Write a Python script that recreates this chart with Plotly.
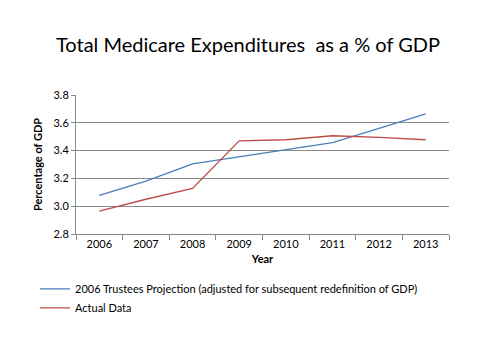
import plotly.graph_objects as go

years = ["2006", "2007", "2008", "2009", "2010", "2011", "2012", "2013"]
projection = [3.078, 3.18, 3.305, 3.357, 3.405, 3.458, 3.56, 3.665]
actual = [2.965, 3.05, 3.128, 3.47, 3.478, 3.507, 3.495, 3.478]

FONT = "Lato, 'Open Sans', sans-serif"

fig = go.Figure()
fig.add_trace(go.Scatter(x=years, y=projection, mode="lines",
                         name="2006 Trustees Projection (adjusted for subsequent redefinition of GDP)",
                         line=dict(color="#4A7EBB", width=1.3)))
fig.add_trace(go.Scatter(x=years, y=actual, mode="lines", name="Actual Data",
                         line=dict(color="#BE4B48", width=1.3)))

fig.update_layout(
    width=480, height=360,
    margin=dict(l=68, r=39, t=87, b=134, autoexpand=False),
    paper_bgcolor="white", plot_bgcolor="white",
    font=dict(family=FONT, size=11, color="black"),
    title=dict(text="Total Medicare Expenditures  as a % of GDP", x=240 / 480, xanchor="center",
               xref="container",
               y=1 - 37 / 360, yanchor="middle", font=dict(size=20, family=FONT)),
    showlegend=True,
    legend=dict(x=(27 - 68) / 373, y=-0.29, xref="paper", yref="paper",
                xanchor="left", yanchor="top", font=dict(size=11), tracegroupgap=0,
                bgcolor="rgba(0,0,0,0)"),
    xaxis=dict(type="category", range=[-0.5, 7.5], tickson="boundaries", ticks="outside", ticklen=5,
               tickcolor="#888888", showline=True, linecolor="#888888", showgrid=False,
               automargin=False,
               title=dict(text="<b>Year</b>", standoff=6, font=dict(size=11)),
               tickfont=dict(size=11)),
    yaxis=dict(range=[2.8, 3.8], tickvals=[2.8, 3.0, 3.2, 3.4, 3.6, 3.8],
               ticktext=["2.8", "3.0", "3.2", "3.4", "3.6", "3.8"],
               ticks="outside", ticklen=4, tickcolor="#888888", automargin=False,
               showline=True, linecolor="#888888", showgrid=True, gridcolor="#888888",
               zeroline=False,
               title=dict(text="<b>Percentage of GDP</b>", standoff=8, font=dict(size=11)),
               tickfont=dict(size=11)),
)

fig.write_html("out.html")
